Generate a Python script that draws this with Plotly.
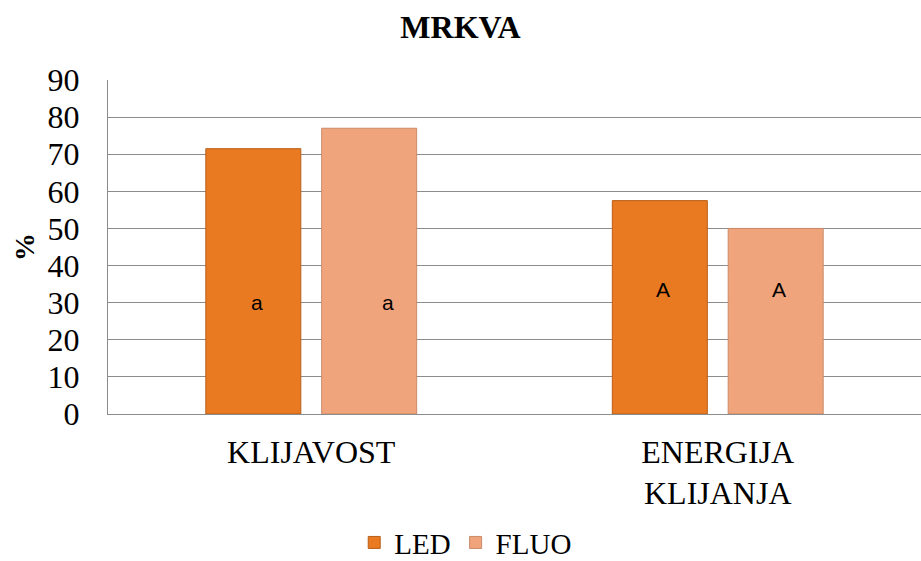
import plotly.graph_objects as go

categories = ["KLIJAVOST", "ENERGIJA<br>KLIJANJA"]
led_values = [71.5, 57.5]
fluo_values = [77, 50]
led_letters = ["a", "A"]
fluo_letters = ["a", "A"]
letter_y = [30, 33.5]
y_ticks = [0, 10, 20, 30, 40, 50, 60, 70, 80, 90]

serif = "Liberation Serif"
sans = "Liberation Sans"

fig = go.Figure()
fig.add_trace(go.Bar(
    name="LED", x=categories, y=led_values,
    marker=dict(color="#E97A22", line=dict(color="#B85F18", width=1)),
    textfont=dict(family=serif),
))
fig.add_trace(go.Bar(
    name="FLUO", x=categories, y=fluo_values,
    marker=dict(color="#F0A47C", line=dict(color="#C98A68", width=1)),
    textfont=dict(family=serif),
))

for i, cat in enumerate(categories):
    fig.add_annotation(x=cat, y=letter_y[i], text=led_letters[i], showarrow=False,
                       xshift=-54 if i == 0 else -55,
                       font=dict(family=sans, size=21, color="#000"))
    fig.add_annotation(x=cat, y=letter_y[i], text=fluo_letters[i], showarrow=False,
                       xshift=77 if i == 0 else 61,
                       font=dict(family=sans, size=21, color="#000"))

fig.update_layout(
    template="none",
    width=921, height=561,
    paper_bgcolor="white", plot_bgcolor="white",
    margin=dict(l=108, r=0, t=80, b=147, autoexpand=False),
    barmode="group", bargap=0.43, bargroupgap=0.18,
    title=dict(text="<b>MRKVA</b>", x=0.5, xanchor="center", y=1 - 27 / 561, yanchor="middle",
               font=dict(family=serif, size=32, color="#000")),
    showlegend=True,
    legend=dict(orientation="h", x=0.44, xanchor="center",
                y=-0.385, yanchor="middle",
                font=dict(family=serif, size=29, color="#000"),
                itemwidth=30, traceorder="normal", tracegroupgap=0,
                bgcolor="rgba(0,0,0,0)", borderwidth=0),
    font=dict(family=serif, color="#000"),
)
fig.update_yaxes(
    range=[0, 90], tickvals=y_ticks, showgrid=True, gridcolor="#8C8C8C", gridwidth=1.3,
    showline=True, linecolor="#8C8C8C", linewidth=1.3, ticks="",
    ticklabelstandoff=21, automargin=False,
    tickfont=dict(family=serif, size=32, color="#000"),
    title=dict(text="<b>%</b>", font=dict(family=serif, size=28, color="#000"), standoff=4),
    zeroline=False,
)
fig.update_xaxes(
    showline=True, linecolor="#8C8C8C", linewidth=1.3, ticks="", automargin=False,
    ticklabelstandoff=9, showgrid=False,
    tickfont=dict(family=serif, size=32, color="#000"),
)

fig.write_html("out.html", config={"displayModeBar": False},
               post_script="document.body.style.margin='0';document.body.style.padding='0';")
